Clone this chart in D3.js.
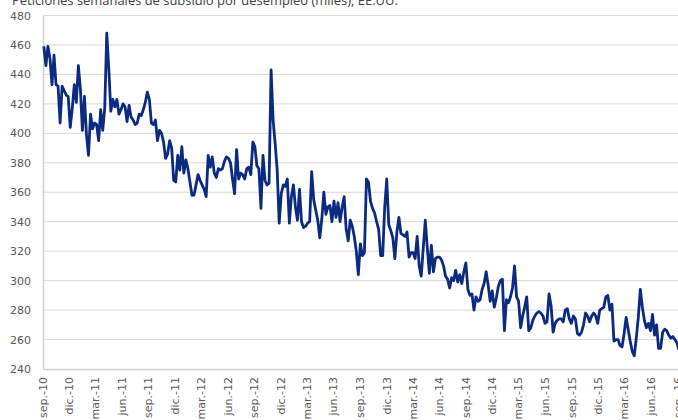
<!DOCTYPE html>
<html><head><meta charset="utf-8">
<script src="https://cdn.jsdelivr.net/npm/d3@7"></script>
<style>body{margin:0;background:#fff;overflow:hidden}</style>
</head><body>
<svg id="c" width="678" height="420"></svg>
<script>
const titleText = "Peticiones semanales de subsidio por desempleo (miles), EE.UU.";
const firstWeek = "2010-09-04";
const claims = [
459,446,459,451,433,453,433,432,407,432,429,426,425,404,417,433,421,446,430,402,
425,399,385,413,403,407,406,395,416,402,417,468,444,415,423,418,423,413,416,420,
418,408,419,411,409,406,407,413,412,416,421,428,423,407,406,409,395,402,400,394,
383,386,395,390,368,367,385,375,391,373,382,376,367,358,358,365,372,368,365,362,
357,385,377,384,373,370,376,375,376,381,384,383,380,369,359,389,369,373,372,369,
376,377,372,394,391,378,376,349,385,368,365,366,443,409,393,375,339,359,365,364,
369,339,357,365,350,341,362,340,336,337,339,340,374,355,348,341,329,342,360,345,
350,351,340,354,343,353,340,350,357,335,327,341,337,330,320,304,325,317,319,369,
367,354,349,346,340,335,317,317,350,369,338,334,329,315,333,343,332,331,330,333,
316,319,319,315,330,310,303,322,341,322,305,324,306,315,316,316,314,310,303,301,
295,302,300,307,299,304,298,306,312,294,290,291,280,289,286,287,294,298,306,297,
286,293,282,288,296,300,301,266,287,285,289,295,310,289,286,268,276,282,289,266,
268,273,276,278,279,278,276,271,272,291,283,265,271,273,274,274,272,280,281,274,
271,276,274,264,263,265,270,278,276,272,276,278,276,271,280,281,282,289,290,280,
284,259,260,260,256,255,264,275,267,259,252,249,261,275,294,282,273,268,271,266,
277,263,270,254,254,265,267,266,263,261,262,260,258,253
];
const yTicks = [240,260,280,300,320,340,360,380,400,420,440,460,480];
const tickDates = ["2010-09-01","2010-12-01","2011-03-01","2011-06-01","2011-09-01","2011-12-01",
"2012-03-01","2012-06-01","2012-09-01","2012-12-01","2013-03-01","2013-06-01","2013-09-01",
"2013-12-01","2014-03-01","2014-06-01","2014-09-01","2014-12-01","2015-03-01","2015-06-01",
"2015-09-01","2015-12-01","2016-03-01","2016-06-01","2016-09-01"];
const tickLabels = ["sep.-10","dic.-10","mar.-11","jun.-11","sep.-11","dic.-11","mar.-12","jun.-12",
"sep.-12","dic.-12","mar.-13","jun.-13","sep.-13","dic.-13","mar.-14","jun.-14","sep.-14","dic.-14",
"mar.-15","jun.-15","sep.-15","dic.-15","mar.-16","jun.-16","sep.-16"];

const parse = d3.utcParse("%Y-%m-%d");
const start = parse(firstWeek);
const data = claims.map((v,i)=>({d:d3.utcDay.offset(start, 7*i), v}));
const ticks = tickDates.map(parse);

const svg = d3.select("#c");
const font = "'DejaVu Sans', Verdana, sans-serif";
const x = d3.scaleUtc().domain([ticks[0], ticks[ticks.length-1]]).range([43, 678.3]);
const y = d3.scaleLinear().domain([240,480]).range([369, 15.5]);

// gridlines
svg.append("g").selectAll("line").data(yTicks.slice(1)).join("line")
  .attr("x1",43).attr("x2",678).attr("y1",d=>y(d)).attr("y2",d=>y(d))
  .attr("stroke","#d9d9d9").attr("stroke-width",1);

// y axis
const ya = svg.append("g").attr("transform","translate(43,0)")
  .call(d3.axisLeft(y).tickValues(yTicks).tickSize(0).tickPadding(12));
ya.select(".domain").attr("stroke","#d0d0d0").attr("stroke-width",1.5);
ya.selectAll("text").attr("font-family",font).attr("font-size",11).attr("fill","#595959");

// x axis
const xa = svg.append("g").attr("transform","translate(0,369)")
  .call(d3.axisBottom(x).tickValues(ticks).tickFormat((d,i)=>tickLabels[i]).tickSize(0));
xa.select(".domain").attr("stroke","#d0d0d0").attr("stroke-width",1.5);
xa.selectAll("text").attr("font-family",font).attr("font-size",11).attr("fill","#595959")
  .attr("text-anchor","end").attr("dy",null).attr("y",null)
  .attr("transform","translate(0,8) rotate(-90)").attr("dominant-baseline","middle");

// line
svg.append("path").datum(data)
  .attr("fill","none").attr("stroke","#0b2b80").attr("stroke-width",2.8)
  .attr("stroke-linejoin","round")
  .attr("d", d3.line().x(d=>x(d.d)).y(d=>y(d.v)));

// title, sized to span the same width as the reference
const t = svg.append("text").attr("x",12).attr("y",5).text(titleText)
  .attr("font-family","'Open Sans', 'DejaVu Sans', sans-serif").attr("font-size",14).attr("fill","#404040");
const w = t.node().getComputedTextLength();
t.attr("font-size", 14 * 386 / w);
</script>
</body></html>
